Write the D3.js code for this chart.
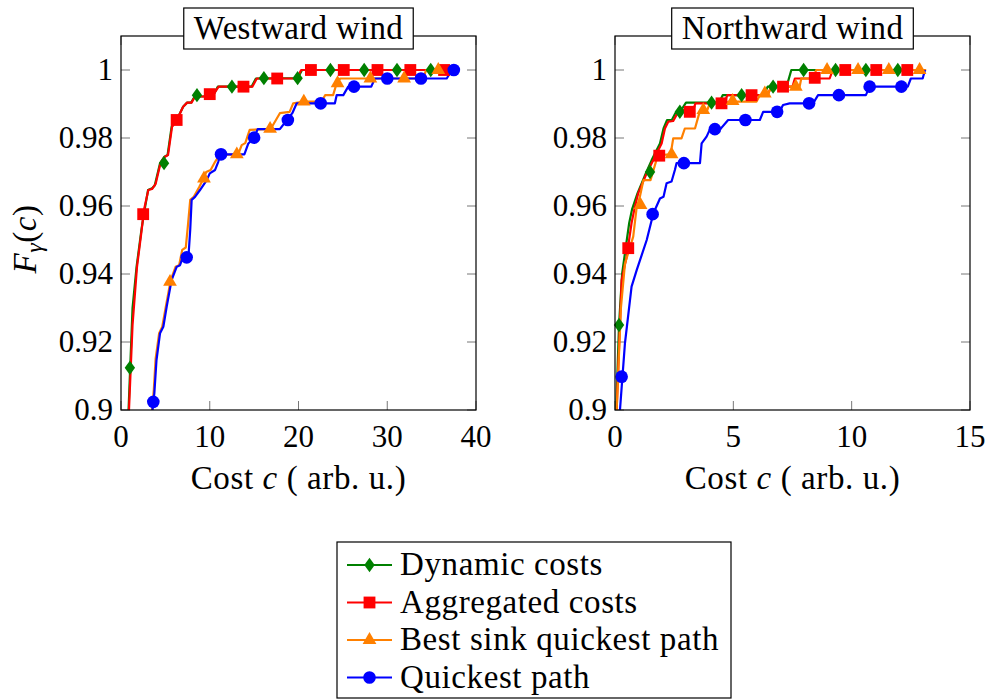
<!DOCTYPE html>
<html>
<head>
<meta charset="utf-8">
<script src="https://cdn.jsdelivr.net/npm/d3@7/dist/d3.min.js"></script>
<style>
  html, body { margin: 0; padding: 0; background: #fff; }
  svg { display: block; }
</style>
</head>
<body>
<svg id="chart" width="989" height="700" font-family="'Liberation Serif', 'Times New Roman', 'DejaVu Serif', serif"></svg>
<script>
// ---- data: empirical cost distributions F_gamma(c) ----
const seriesNames = ["Dynamic costs", "Aggregated costs", "Best sink quickest path", "Quickest path"];
const seriesColors = ["#008000", "#ff0000", "#ff8000", "#0000ff"];
const seriesMarks = ["diamond", "square", "triangle", "circle"];

const panelTitles = ["Westward wind", "Northward wind"];
const xTicksWest = [0, 10, 20, 30, 40];
const xTicksNorth = [0, 5, 10, 15];
const yTicks = [0.9, 0.92, 0.94, 0.96, 0.98, 1];
const yTickLabels = ["0.9", "0.92", "0.94", "0.96", "0.98", "1"];

// Westward wind: curve vertices [cost, F]
const westDynamic = [[0.75,0.895],[0.85,0.9],[1.3,0.93],[1.75,0.942],[2.3,0.953],[2.6,0.958],[3.05,0.9647],[3.5,0.9652],[3.8,0.966],[4.4,0.9726],[4.9,0.9745],[5.25,0.975],[5.7,0.9833],[6.27,0.9853],[7.0,0.9892],[7.45,0.9904],[7.9,0.9904],[8.3,0.9922],[9.3,0.9922],[9.8,0.9926],[10.4,0.9926],[10.9,0.9951],[14.7,0.9951],[15.2,0.9975],[19.9,0.9976],[20.4,1.0],[37.3,1.0]];
const westAggregated = [[0.8,0.895],[0.9,0.9],[1.3,0.925],[1.8,0.942],[2.33,0.953],[2.6,0.959],[3.08,0.9647],[3.5,0.965],[3.9,0.9665],[4.45,0.9726],[4.95,0.9745],[5.3,0.975],[5.75,0.9833],[6.3,0.9853],[7.0,0.9892],[7.45,0.9904],[7.95,0.9904],[8.35,0.9922],[9.4,0.9922],[9.9,0.9931],[10.5,0.9931],[11.0,0.9951],[14.8,0.9951],[15.3,0.9975],[19.8,0.9975],[20.3,1.0],[37.5,1.0]];
const westBestSink = [[3.4,0.895],[3.5,0.9],[3.7,0.906],[3.9,0.915],[4.3,0.9226],[4.65,0.9245],[5.05,0.9304],[5.6,0.9382],[6.15,0.9421],[6.55,0.9426],[6.9,0.9471],[7.3,0.9478],[7.55,0.9545],[7.8,0.9618],[8.2,0.9627],[8.8,0.9655],[9.3,0.9681],[9.6,0.970],[10.1,0.9706],[10.6,0.973],[11.1,0.975],[13.2,0.9752],[13.6,0.9779],[14.0,0.9785],[14.5,0.9824],[16.5,0.9826],[16.9,0.9828],[17.9,0.9873],[19.0,0.9877],[19.4,0.9902],[20.6,0.9907],[22.6,0.9907],[23.0,0.9926],[23.9,0.9926],[24.3,0.9961],[24.7,0.9975],[34.0,0.9975],[34.4,1.0],[36.6,1.0]];
const westQuickest = [[3.5,0.895],[3.55,0.9],[3.76,0.905],[4.0,0.9147],[4.4,0.9226],[4.77,0.9245],[5.15,0.9304],[5.7,0.9382],[6.27,0.9421],[6.65,0.9426],[7.0,0.9451],[7.6,0.9451],[7.8,0.953],[7.96,0.9618],[8.34,0.9627],[8.9,0.9647],[9.3,0.9662],[9.66,0.9676],[10.0,0.9696],[10.6,0.9706],[10.96,0.973],[11.2,0.9752],[13.9,0.9752],[14.35,0.9784],[15.0,0.9801],[15.4,0.9826],[17.9,0.9826],[18.7,0.9853],[19.3,0.9873],[19.8,0.9902],[24.1,0.9902],[24.3,0.9926],[25.05,0.9926],[25.6,0.9951],[28.2,0.9951],[28.6,0.9975],[36.7,0.9975],[37.3,1.0],[37.6,1.0]];

// Westward wind: marked samples [cost, F]
const westDynamicMarks = [[1.0,0.9124],[4.85,0.9726],[8.56,0.9926],[12.5,0.9951],[16.1,0.9976],[19.9,0.9976],[23.6,1],[27.4,1],[31.1,1],[34.9,1]];
const westAggregatedMarks = [[2.5,0.9576],[6.27,0.9853],[10.0,0.9929],[13.8,0.9951],[17.6,0.9975],[21.4,1],[25.1,1],[28.9,1],[32.6,1],[36.4,1]];
const westBestSinkMarks = [[5.52,0.9377],[9.35,0.9681],[13.05,0.9752],[16.8,0.9827],[20.6,0.9907],[24.4,0.9961],[28.1,0.9975],[31.9,0.9975],[35.75,1]];
const westQuickestMarks = [[3.64,0.9024],[7.4,0.9449],[11.27,0.9752],[15.0,0.9801],[18.8,0.9853],[22.5,0.9902],[26.25,0.9951],[30.0,0.9975],[33.8,0.9975],[37.5,1]];

// Northward wind: curve vertices [cost, F]
const northDynamic = [[0.02,0.895],[0.05,0.9],[0.17,0.925],[0.3,0.94],[0.45,0.9476],[0.6,0.955],[0.72,0.959],[0.95,0.9637],[1.1,0.9662],[1.3,0.9696],[1.55,0.9735],[1.9,0.9784],[2.05,0.9828],[2.2,0.9853],[2.4,0.9853],[2.55,0.9873],[2.75,0.9877],[3.0,0.9904],[4.4,0.9904],[4.55,0.9926],[6.3,0.9926],[6.45,0.9951],[7.25,0.9951],[7.45,1.0],[13.1,1.0]];
const northAggregated = [[0.05,0.895],[0.07,0.9],[0.28,0.9382],[0.49,0.945],[0.7,0.955],[0.84,0.9598],[0.98,0.9637],[1.13,0.9662],[1.34,0.9696],[1.62,0.9735],[1.97,0.9784],[2.11,0.9828],[2.25,0.9848],[2.46,0.985],[2.6,0.9868],[2.88,0.9882],[3.3,0.9882],[3.4,0.9902],[4.6,0.9902],[4.75,0.9926],[6.45,0.9926],[6.6,0.9951],[7.5,0.9951],[7.6,0.9975],[9.07,0.9975],[9.2,1.0],[13.1,1.0]];
const northBestSink = [[0.05,0.895],[0.07,0.9],[0.25,0.93],[0.42,0.943],[0.77,0.951],[0.91,0.9593],[1.05,0.9627],[1.2,0.9676],[1.5,0.9676],[1.75,0.9735],[1.9,0.975],[2.35,0.9752],[2.46,0.9799],[2.81,0.9799],[2.95,0.9828],[3.38,0.9828],[3.52,0.9863],[3.6,0.9882],[3.9,0.9882],[4.0,0.9902],[4.7,0.9905],[5.0,0.9907],[5.98,0.9907],[6.12,0.9926],[6.45,0.9926],[6.6,0.9951],[7.8,0.9951],[7.87,0.9975],[8.37,0.9975],[8.5,1.0],[13.15,1.0]];
const northQuickest = [[0.19,0.895],[0.21,0.9],[0.42,0.9196],[0.7,0.9363],[0.92,0.9412],[1.34,0.95],[1.62,0.9578],[1.9,0.9622],[2.05,0.9627],[2.18,0.9667],[2.39,0.9672],[2.53,0.9706],[2.6,0.9726],[3.59,0.9726],[3.66,0.9784],[3.87,0.9804],[4.0,0.9824],[4.45,0.9826],[4.78,0.9853],[6.12,0.9853],[6.26,0.9877],[6.95,0.9877],[7.1,0.9897],[7.38,0.9902],[8.37,0.9902],[8.58,0.9926],[10.6,0.9926],[10.76,0.9951],[12.37,0.9951],[12.5,0.9975],[13.0,0.9975],[13.1,1.0]];

// Northward wind: marked samples [cost, F]
const northDynamicMarks = [[0.17,0.925],[1.48,0.970],[2.74,0.9877],[4.08,0.9904],[5.35,0.9926],[6.68,0.9951],[7.97,1],[9.32,1],[10.6,1],[11.95,1]];
const northAggregatedMarks = [[0.56,0.9476],[1.87,0.9748],[3.16,0.9877],[4.5,0.9902],[5.77,0.9926],[7.1,0.9951],[8.44,0.9977],[9.73,1],[11.04,1],[12.35,1]];
const northBestSinkMarks = [[1.08,0.9603],[2.39,0.9752],[3.73,0.9882],[4.97,0.9909],[6.33,0.9931],[7.64,0.9951],[8.96,1],[10.27,1],[11.57,1],[12.87,1]];
const northQuickestMarks = [[0.28,0.9098],[1.59,0.9576],[2.91,0.9726],[4.22,0.9826],[5.51,0.9853],[6.85,0.9877],[8.2,0.9902],[9.46,0.9926],[10.76,0.9951],[12.1,0.9951]];

// ---- drawing ----
const svg = d3.select("#chart");
const FONT_WORD = 33, FONT_TICK = 31, WORD_SPACING = 0.6;

const panels = [
  { id: "west", title: panelTitles[0], xMax: 40, xTicks: xTicksWest, left: 121, right: 476,
    lines: [westDynamic, westAggregated, westBestSink, westQuickest],
    marks: [westDynamicMarks, westAggregatedMarks, westBestSinkMarks, westQuickestMarks], yLabel: true },
  { id: "north", title: panelTitles[1], xMax: 15, xTicks: xTicksNorth, left: 615, right: 970,
    lines: [northDynamic, northAggregated, northBestSink, northQuickest],
    marks: [northDynamicMarks, northAggregatedMarks, northBestSinkMarks, northQuickestMarks], yLabel: false }
];
const plotTop = 36, plotBottom = 410;

function markPath(kind) {
  if (kind === "diamond") return "M0,-7.2L5.2,0L0,7.2L-5.2,0Z";
  if (kind === "square") return d3.symbol(d3.symbolSquare, 140)();
  if (kind === "triangle") return d3.symbol(d3.symbolTriangle, 82)();
  return d3.symbol(d3.symbolCircle, 125)();
}

panels.forEach(p => {
  const x = d3.scaleLinear().domain([0, p.xMax]).range([p.left, p.right]);
  const y = d3.scaleLinear().domain([0.9, 1.01]).range([plotBottom, plotTop]);
  const g = svg.append("g");

  g.append("clipPath").attr("id", "clip-" + p.id)
    .append("rect").attr("x", p.left).attr("y", plotTop).attr("width", p.right - p.left).attr("height", plotBottom - plotTop);

  // ticks (mirrored on opposite sides, pointing inward)
  const tickLen = 9;
  const tickG = g.append("g").attr("stroke", "#777").attr("stroke-width", 1);
  p.xTicks.forEach(t => {
    tickG.append("line").attr("x1", x(t)).attr("x2", x(t)).attr("y1", plotBottom).attr("y2", plotBottom - tickLen);
    tickG.append("line").attr("x1", x(t)).attr("x2", x(t)).attr("y1", plotTop).attr("y2", plotTop + tickLen);
  });
  yTicks.forEach(t => {
    tickG.append("line").attr("x1", p.left).attr("x2", p.left + tickLen).attr("y1", y(t)).attr("y2", y(t));
    tickG.append("line").attr("x1", p.right).attr("x2", p.right - tickLen).attr("y1", y(t)).attr("y2", y(t));
  });

  // tick labels
  p.xTicks.forEach(t => {
    g.append("text").attr("x", x(t)).attr("y", plotBottom + 37).attr("text-anchor", "middle")
      .attr("font-size", FONT_TICK).text(t);
  });
  yTicks.forEach((t, i) => {
    g.append("text").attr("x", p.left - 8).attr("y", y(t) + 10).attr("text-anchor", "end")
      .attr("font-size", FONT_TICK).text(yTickLabels[i]);
  });

  // curves
  const line = d3.line().x(d => x(d[0])).y(d => y(d[1]));
  const cg = g.append("g").attr("clip-path", "url(#clip-" + p.id + ")");
  p.lines.forEach((data, i) => {
    cg.append("path").datum(data).attr("d", line).attr("fill", "none")
      .attr("stroke", seriesColors[i]).attr("stroke-width", 2.2).attr("stroke-linejoin", "round");
  });
  // markers on top of all curves
  p.marks.forEach((data, i) => {
    g.append("g").selectAll("path").data(data).join("path")
      .attr("transform", d => `translate(${x(d[0])},${y(d[1])})`)
      .attr("d", markPath(seriesMarks[i])).attr("fill", seriesColors[i]);
  });

  // frame
  g.append("rect").attr("x", p.left).attr("y", plotTop).attr("width", p.right - p.left).attr("height", plotBottom - plotTop)
    .attr("fill", "none").attr("stroke", "#000").attr("stroke-width", 1.2);

  // title box
  const cx = (p.left + p.right) / 2;
  const boxG = g.append("g");
  const boxRect = boxG.append("rect");
  const tt = boxG.append("text").attr("x", cx).attr("y", 39).attr("text-anchor", "middle")
    .attr("font-size", FONT_WORD).attr("letter-spacing", 0.3).text(p.title);
  const bb = tt.node().getBBox();
  boxRect.attr("x", cx - (bb.width / 2 + 10)).attr("y", 8).attr("width", bb.width + 20).attr("height", 41)
    .attr("fill", "#fff").attr("stroke", "#000").attr("stroke-width", 1.2);

  // x axis label
  const xl = g.append("text").attr("x", cx).attr("y", 489).attr("text-anchor", "middle")
    .attr("font-size", FONT_WORD).attr("letter-spacing", WORD_SPACING);
  xl.append("tspan").text("Cost ");
  xl.append("tspan").attr("font-style", "italic").text("c");
  xl.append("tspan").text(" ( arb. u.)");

  if (p.yLabel) {
    const yl = g.append("text").attr("transform", `translate(36,${(plotTop + plotBottom) / 2 + 16}) rotate(-90)`)
      .attr("text-anchor", "middle").attr("font-size", FONT_WORD).attr("letter-spacing", 0.5);
    yl.append("tspan").attr("font-style", "italic").text("F");
    yl.append("tspan").attr("font-style", "italic").attr("font-size", 24).attr("dy", 6).text("γ");
    yl.append("tspan").attr("dy", -6).text("(");
    yl.append("tspan").attr("font-style", "italic").text("c");
    yl.append("tspan").text(")");
  }
});

// legend
const lg = svg.append("g");
lg.append("rect").attr("x", 337).attr("y", 542).attr("width", 394).attr("height", 156)
  .attr("fill", "#fff").attr("stroke", "#000").attr("stroke-width", 1.2);
seriesNames.forEach((name, i) => {
  const cy = 565 + i * 37.5;
  lg.append("line").attr("x1", 347).attr("x2", 392).attr("y1", cy).attr("y2", cy)
    .attr("stroke", seriesColors[i]).attr("stroke-width", 2.2);
  lg.append("path").attr("transform", `translate(369.5,${cy})`).attr("d", markPath(seriesMarks[i]))
    .attr("fill", seriesColors[i]);
  lg.append("text").attr("x", 400).attr("y", cy + 10).attr("font-size", FONT_WORD)
    .attr("letter-spacing", WORD_SPACING).text(name);
});
</script>
</body>
</html>
